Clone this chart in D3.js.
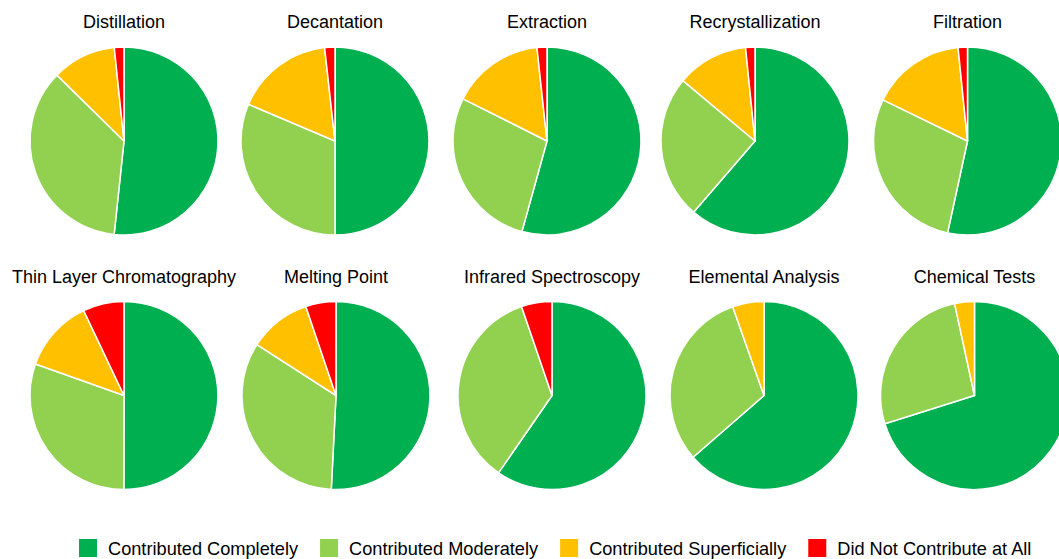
<!DOCTYPE html>
<html>
<head>
<meta charset="utf-8">
<script src="https://cdn.jsdelivr.net/npm/d3@7"></script>
<style>
  html, body { margin: 0; padding: 0; background: #fff; overflow: hidden; }
  svg { display: block; font-family: "Liberation Sans", Arial, sans-serif; }
</style>
</head>
<body>
<svg id="chart" width="1059" height="559"></svg>
<script>
// ---- Data ----
const categories = ["Distillation", "Decantation", "Extraction", "Recrystallization", "Filtration",
  "Thin Layer Chromatography", "Melting Point", "Infrared Spectroscopy", "Elemental Analysis", "Chemical Tests"];
const seriesNames = ["Contributed Completely", "Contributed Moderately", "Contributed Superficially", "Did Not Contribute at All"];
const completely    = [51.7, 50.0, 54.3, 61.3, 53.4, 50.0, 50.8, 59.6, 63.6, 70.2];
const moderately    = [35.7, 31.4, 28.1, 24.75, 28.8, 30.4, 33.3, 35.1, 31.0, 26.5];
const superficially = [11.0, 16.85, 15.9, 12.3, 16.2, 12.5, 10.7, 0, 5.4, 3.4];
const notAtAll      = [1.65, 1.76, 1.7, 1.6, 1.6, 7.05, 5.2, 5.25, 0, 0];

// ---- Layout / style ----
const seriesColors = ["#00B050", "#92D050", "#FFC000", "#FF0000"];
const rowCentersX = [[124, 335, 547, 755, 967.5], [124, 336, 552, 764, 974.5]];
const rowCentersY = [141, 395.5];
const radius = 94;

const svg = d3.select("#chart");
const color = d3.scaleOrdinal().domain(seriesNames).range(seriesColors);
const pie = d3.pie().sort(null).value(d => d.value);
const arc = d3.arc().innerRadius(0).outerRadius(radius);

categories.forEach((cat, i) => {
  const row = Math.floor(i / 5), col = i % 5;
  const cx = rowCentersX[row][col], cy = rowCentersY[row];
  const values = [completely[i], moderately[i], superficially[i], notAtAll[i]]
    .map((v, k) => ({ name: seriesNames[k], value: v }));
  const g = svg.append("g").attr("transform", `translate(${cx},${cy})`);
  g.selectAll("path")
    .data(pie(values).filter(d => d.data.value > 0))
    .join("path")
    .attr("d", arc)
    .attr("fill", d => color(d.data.name))
    .attr("stroke", "#fff")
    .attr("stroke-width", 1.5)
    .attr("stroke-linejoin", "round");
  g.append("text")
    .attr("x", 0)
    .attr("y", -113)
    .attr("text-anchor", "middle")
    .attr("font-size", 18)
    .attr("fill", "#000")
    .text(cat);
});

// ---- Legend ----
const legend = svg.append("g").attr("transform", "translate(79,539)");
let lx = 0;
seriesNames.forEach((name, k) => {
  const item = legend.append("g").attr("transform", `translate(${lx},0)`);
  item.append("rect").attr("width", 18).attr("height", 18).attr("fill", color(name));
  const t = item.append("text").attr("x", 29).attr("y", 16)
    .attr("font-size", 18.2).attr("fill", "#000").text(name);
  lx += 29 + t.node().getComputedTextLength() + 22;
});
</script>
</body>
</html>
